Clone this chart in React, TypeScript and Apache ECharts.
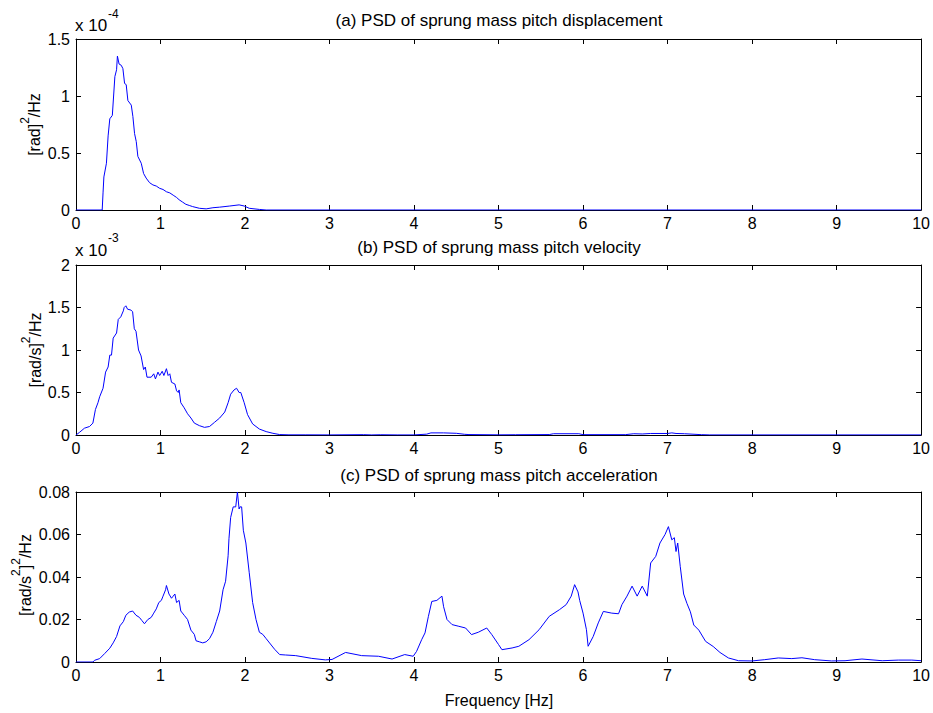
import React, { useEffect, useRef } from "react";
import * as echarts from "echarts";

// Frequency tick values (Hz)
const freqTicks = [0, 1, 2, 3, 4, 5, 6, 7, 8, 9, 10];

// (a) PSD of sprung mass pitch displacement, values in units of 1e-4 [rad]^2/Hz
const dispFreq = [0, 0.31, 0.32, 0.33, 0.36, 0.38, 0.4, 0.43, 0.46, 0.48, 0.49, 0.51, 0.535, 0.555, 0.575, 0.594, 0.614, 0.654, 0.673, 0.693, 0.713, 0.732, 0.772, 0.8, 0.83, 0.87, 0.91, 0.95, 0.99, 1.03, 1.07, 1.11, 1.15, 1.19, 1.22, 1.26, 1.3, 1.34, 1.38, 1.46, 1.54, 1.62, 1.7, 1.82, 1.93, 1.99, 2.05, 2.17, 2.25, 10];
const dispPsd = [0, 0, 0.15, 0.29, 0.41, 0.65, 0.8, 0.83, 1.17, 1.23, 1.35, 1.28, 1.27, 1.24, 1.11, 1.1, 0.96, 0.92, 0.82, 0.67, 0.6, 0.47, 0.41, 0.32, 0.28, 0.24, 0.22, 0.21, 0.19, 0.18, 0.16, 0.15, 0.13, 0.11, 0.09, 0.07, 0.05, 0.04, 0.03, 0.015, 0.01, 0.02, 0.025, 0.035, 0.045, 0.035, 0.015, 0.005, 0, 0];

// (b) PSD of sprung mass pitch velocity, values in units of 1e-3 [rad/s]^2/Hz
const velFreq = [0, 0.04, 0.1, 0.16, 0.2, 0.23, 0.26, 0.28, 0.32, 0.35, 0.38, 0.4, 0.42, 0.44, 0.48, 0.5, 0.53, 0.56, 0.57, 0.59, 0.61, 0.65, 0.67, 0.69, 0.71, 0.74, 0.77, 0.8, 0.82, 0.84, 0.89, 0.92, 0.94, 0.97, 0.99, 1.02, 1.04, 1.07, 1.09, 1.11, 1.13, 1.17, 1.19, 1.21, 1.22, 1.24, 1.28, 1.32, 1.36, 1.4, 1.46, 1.52, 1.58, 1.64, 1.7, 1.76, 1.8, 1.83, 1.87, 1.9, 1.93, 1.95, 1.99, 2.03, 2.09, 2.17, 2.25, 2.33, 2.41, 2.52, 2.72, 3.0, 3.4, 3.5, 3.6, 3.8, 4.0, 4.15, 4.2, 4.35, 4.5, 4.6, 4.65, 5.0, 5.2, 5.6, 5.65, 5.95, 6.0, 6.5, 6.6, 6.7, 6.8, 7.0, 7.05, 7.1, 7.2, 7.4, 7.5, 10];
const velPsd = [0, 0.03, 0.08, 0.1, 0.14, 0.3, 0.38, 0.45, 0.55, 0.74, 0.8, 0.94, 0.94, 1.14, 1.2, 1.36, 1.39, 1.46, 1.5, 1.52, 1.48, 1.47, 1.45, 1.25, 1.22, 1.0, 0.93, 0.77, 0.8, 0.68, 0.68, 0.72, 0.66, 0.74, 0.7, 0.75, 0.7, 0.78, 0.7, 0.72, 0.62, 0.6, 0.52, 0.5, 0.53, 0.38, 0.32, 0.25, 0.2, 0.14, 0.11, 0.09, 0.1, 0.15, 0.2, 0.27, 0.38, 0.48, 0.53, 0.55, 0.5, 0.5, 0.38, 0.24, 0.13, 0.07, 0.04, 0.02, 0.005, 0.002, 0.002, 0.001, 0.004, 0.001, 0.003, 0.001, 0.001, 0.01, 0.025, 0.025, 0.02, 0.008, 0.005, 0.002, 0.003, 0.005, 0.015, 0.015, 0.004, 0.004, 0.015, 0.012, 0.018, 0.018, 0.025, 0.018, 0.015, 0.004, 0.001, 0.001];

// (c) PSD of sprung mass pitch acceleration, [rad/s^2]^2/Hz
const accFreq = [0, 0.2, 0.22, 0.28, 0.34, 0.4, 0.44, 0.48, 0.52, 0.56, 0.59, 0.63, 0.67, 0.71, 0.75, 0.78, 0.81, 0.85, 0.89, 0.92, 0.95, 0.98, 1.01, 1.03, 1.06, 1.07, 1.1, 1.13, 1.15, 1.17, 1.19, 1.22, 1.24, 1.28, 1.32, 1.36, 1.4, 1.42, 1.46, 1.5, 1.54, 1.58, 1.62, 1.66, 1.7, 1.74, 1.77, 1.8, 1.81, 1.83, 1.86, 1.89, 1.91, 1.93, 1.94, 1.96, 1.98, 2.01, 2.05, 2.09, 2.13, 2.17, 2.21, 2.25, 2.31, 2.35, 2.41, 2.48, 2.6, 2.79, 2.95, 3.03, 3.19, 3.38, 3.58, 3.74, 3.89, 3.99, 4.03, 4.09, 4.13, 4.17, 4.21, 4.27, 4.33, 4.35, 4.39, 4.45, 4.53, 4.61, 4.68, 4.76, 4.86, 4.92, 5.0, 5.04, 5.16, 5.24, 5.36, 5.48, 5.6, 5.72, 5.8, 5.86, 5.9, 5.94, 5.96, 6.0, 6.04, 6.06, 6.12, 6.18, 6.24, 6.34, 6.42, 6.46, 6.52, 6.58, 6.64, 6.7, 6.76, 6.8, 6.86, 6.91, 6.97, 7.01, 7.05, 7.08, 7.1, 7.12, 7.15, 7.19, 7.23, 7.27, 7.31, 7.37, 7.45, 7.54, 7.62, 7.72, 7.84, 8.0, 8.15, 8.31, 8.47, 8.59, 8.74, 8.94, 9.1, 9.3, 9.54, 9.73, 9.89, 10];
const accPsd = [0, 0, 0.0008, 0.0016, 0.004, 0.0065, 0.009, 0.012, 0.017, 0.019, 0.022, 0.0235, 0.024, 0.022, 0.021, 0.0195, 0.018, 0.02, 0.021, 0.023, 0.025, 0.028, 0.029, 0.031, 0.034, 0.036, 0.032, 0.03, 0.031, 0.032, 0.028, 0.029, 0.024, 0.022, 0.02, 0.015, 0.013, 0.01, 0.0095, 0.009, 0.0095, 0.011, 0.014, 0.019, 0.024, 0.034, 0.038, 0.05, 0.058, 0.068, 0.073, 0.073, 0.08, 0.072, 0.073, 0.073, 0.062, 0.056, 0.042, 0.028, 0.02, 0.014, 0.013, 0.011, 0.008, 0.006, 0.0035, 0.0033, 0.003, 0.0017, 0.001, 0.0012, 0.0045, 0.003, 0.0027, 0.0014, 0.0035, 0.0027, 0.005, 0.0105, 0.0137, 0.0215, 0.0285, 0.029, 0.031, 0.026, 0.02, 0.0176, 0.0168, 0.016, 0.0129, 0.014, 0.016, 0.0129, 0.0082, 0.0058, 0.0066, 0.0074, 0.0105, 0.0152, 0.0215, 0.0246, 0.027, 0.031, 0.0364, 0.033, 0.029, 0.023, 0.0152, 0.0074, 0.012, 0.0184, 0.0238, 0.023, 0.0227, 0.027, 0.031, 0.0357, 0.031, 0.0357, 0.031, 0.0466, 0.0497, 0.056, 0.06, 0.0637, 0.0575, 0.0585, 0.052, 0.056, 0.045, 0.032, 0.0275, 0.0236, 0.0174, 0.015, 0.0097, 0.0073, 0.0045, 0.0019, 0.0006, 0.0005, 0.0011, 0.0019, 0.0016, 0.002, 0.0011, 0.0005, 0.0006, 0.0014, 0.0006, 0.0009, 0.0009, 0.0006];

// Y tick ranges
const dispTicks = [0, 0.5, 1, 1.5];
const velTicks = [0, 0.5, 1, 1.5, 2];
const accTicks = [0, 0.02, 0.04, 0.06, 0.08];

const titles = [
  "(a) PSD of sprung mass pitch displacement",
  "(b) PSD of sprung mass pitch velocity",
  "(c) PSD of sprung mass pitch acceleration",
];
// rich-text y labels: {s|..} marks a superscript
const yLabels = ["{m|[rad]}{s|2}{m|/Hz}", "{m|[rad/s]}{s|2}{m|/Hz}", "{m|[rad/s}{s|2}{m|]}{s|2}{m|/Hz}"];
const xLabel = "Frequency [Hz]";
const exponents = ["-4", "-3"];

const FONT = '"Liberation Sans", Arial, Helvetica, sans-serif';

function zip(xs: number[], ys: number[]) {
  return xs.map((x, i) => [x, ys[i]]);
}

export default function App() {
  const ref = useRef<HTMLDivElement>(null);
  useEffect(() => {
    if (!ref.current) return;
    const chart = echarts.init(ref.current, null, { renderer: "svg" });

    const grids = [
      { left: 76, top: 39, width: 846, height: 171 },
      { left: 76, top: 265, width: 846, height: 170 },
      { left: 76, top: 492, width: 846, height: 170 },
    ];
    const yTickSets = [dispTicks, velTicks, accTicks];
    const axisLine = { show: true, onZero: false, lineStyle: { color: "#000", width: 1 } };
    const tick = { show: true, inside: true, length: 5, lineStyle: { color: "#000", width: 1 } };

    const xAxis: any[] = [];
    const yAxis: any[] = [];
    grids.forEach((g, i) => {
      xAxis.push({
        type: "value", gridIndex: i, min: freqTicks[0], max: freqTicks[freqTicks.length - 1], interval: 1, position: "bottom",
        axisLine, axisTick: tick, splitLine: { show: false },
        axisLabel: { show: true, color: "#000", fontSize: 16, fontFamily: FONT, margin: 5 },
      });
      xAxis.push({
        type: "value", gridIndex: i, min: freqTicks[0], max: freqTicks[freqTicks.length - 1], interval: 1, position: "top",
        axisLine, axisTick: tick, splitLine: { show: false }, axisLabel: { show: false },
      });
      const t = yTickSets[i];
      const iv = t[1] - t[0];
      yAxis.push({
        type: "value", gridIndex: i, min: t[0], max: t[t.length - 1], interval: iv, position: "left",
        axisLine, axisTick: tick, splitLine: { show: false },
        axisLabel: { show: true, color: "#000", fontSize: 16, fontFamily: FONT, margin: 6 },
      });
      yAxis.push({
        type: "value", gridIndex: i, min: t[0], max: t[t.length - 1], interval: iv, position: "right",
        axisLine, axisTick: tick, splitLine: { show: false }, axisLabel: { show: false },
      });
    });

    const lineSeries = (data: number[][], i: number) => ({
      type: "line", xAxisIndex: i * 2, yAxisIndex: i * 2, data,
      showSymbol: false, symbol: "none", silent: true,
      lineStyle: { color: "#0000ff", width: 1 },
    });

    const txt = (text: string, x: number, y: number, size: number, extra: any = {}) => ({
      type: "text", x, y, silent: true, ...extra,
      style: { text, fill: "#000", font: `${size}px ${FONT}`, align: "center", verticalAlign: "middle", ...(extra.style || {}) },
    });

    const rich = {
      m: { fontSize: 16, fontFamily: FONT, color: "#000", lineHeight: 30, verticalAlign: "middle" },
      s: { fontSize: 12, fontFamily: FONT, color: "#000", lineHeight: 12, verticalAlign: "top" },
    };
    const ylab = (text: string, x: number, y: number) => ({
      type: "text", x, y, rotation: Math.PI / 2, silent: true,
      style: { text, rich, align: "center", verticalAlign: "middle", fill: "#000" },
    });

    const graphic: any[] = [
      txt(titles[0], 499, 20, 17),
      txt(titles[1], 499, 247, 17),
      txt(titles[2], 499, 475, 17),
      txt(xLabel, 499, 700, 16),
      ylab(yLabels[0], 34, 124.5),
      ylab(yLabels[1], 35, 350),
      ylab(yLabels[2], 25, 575),
      txt("x 10", 75, 25, 17, { style: { align: "left" } }),
      txt(exponents[0], 108, 14, 12, { style: { align: "left" } }),
      txt("x 10", 75, 250, 17, { style: { align: "left" } }),
      txt(exponents[1], 108, 238, 12, { style: { align: "left" } }),
    ];

    chart.setOption({
      animation: false,
      backgroundColor: "#fff",
      textStyle: { fontFamily: FONT },
      grid: grids,
      xAxis,
      yAxis,
      series: [
        lineSeries(zip(dispFreq, dispPsd), 0),
        lineSeries(zip(velFreq, velPsd), 1),
        lineSeries(zip(accFreq, accPsd), 2),
      ],
      graphic,
    });
    return () => chart.dispose();
  }, []);
  return <div ref={ref} style={{ width: 933, height: 713, position: "absolute", left: 0, top: 0 }} />;
}
